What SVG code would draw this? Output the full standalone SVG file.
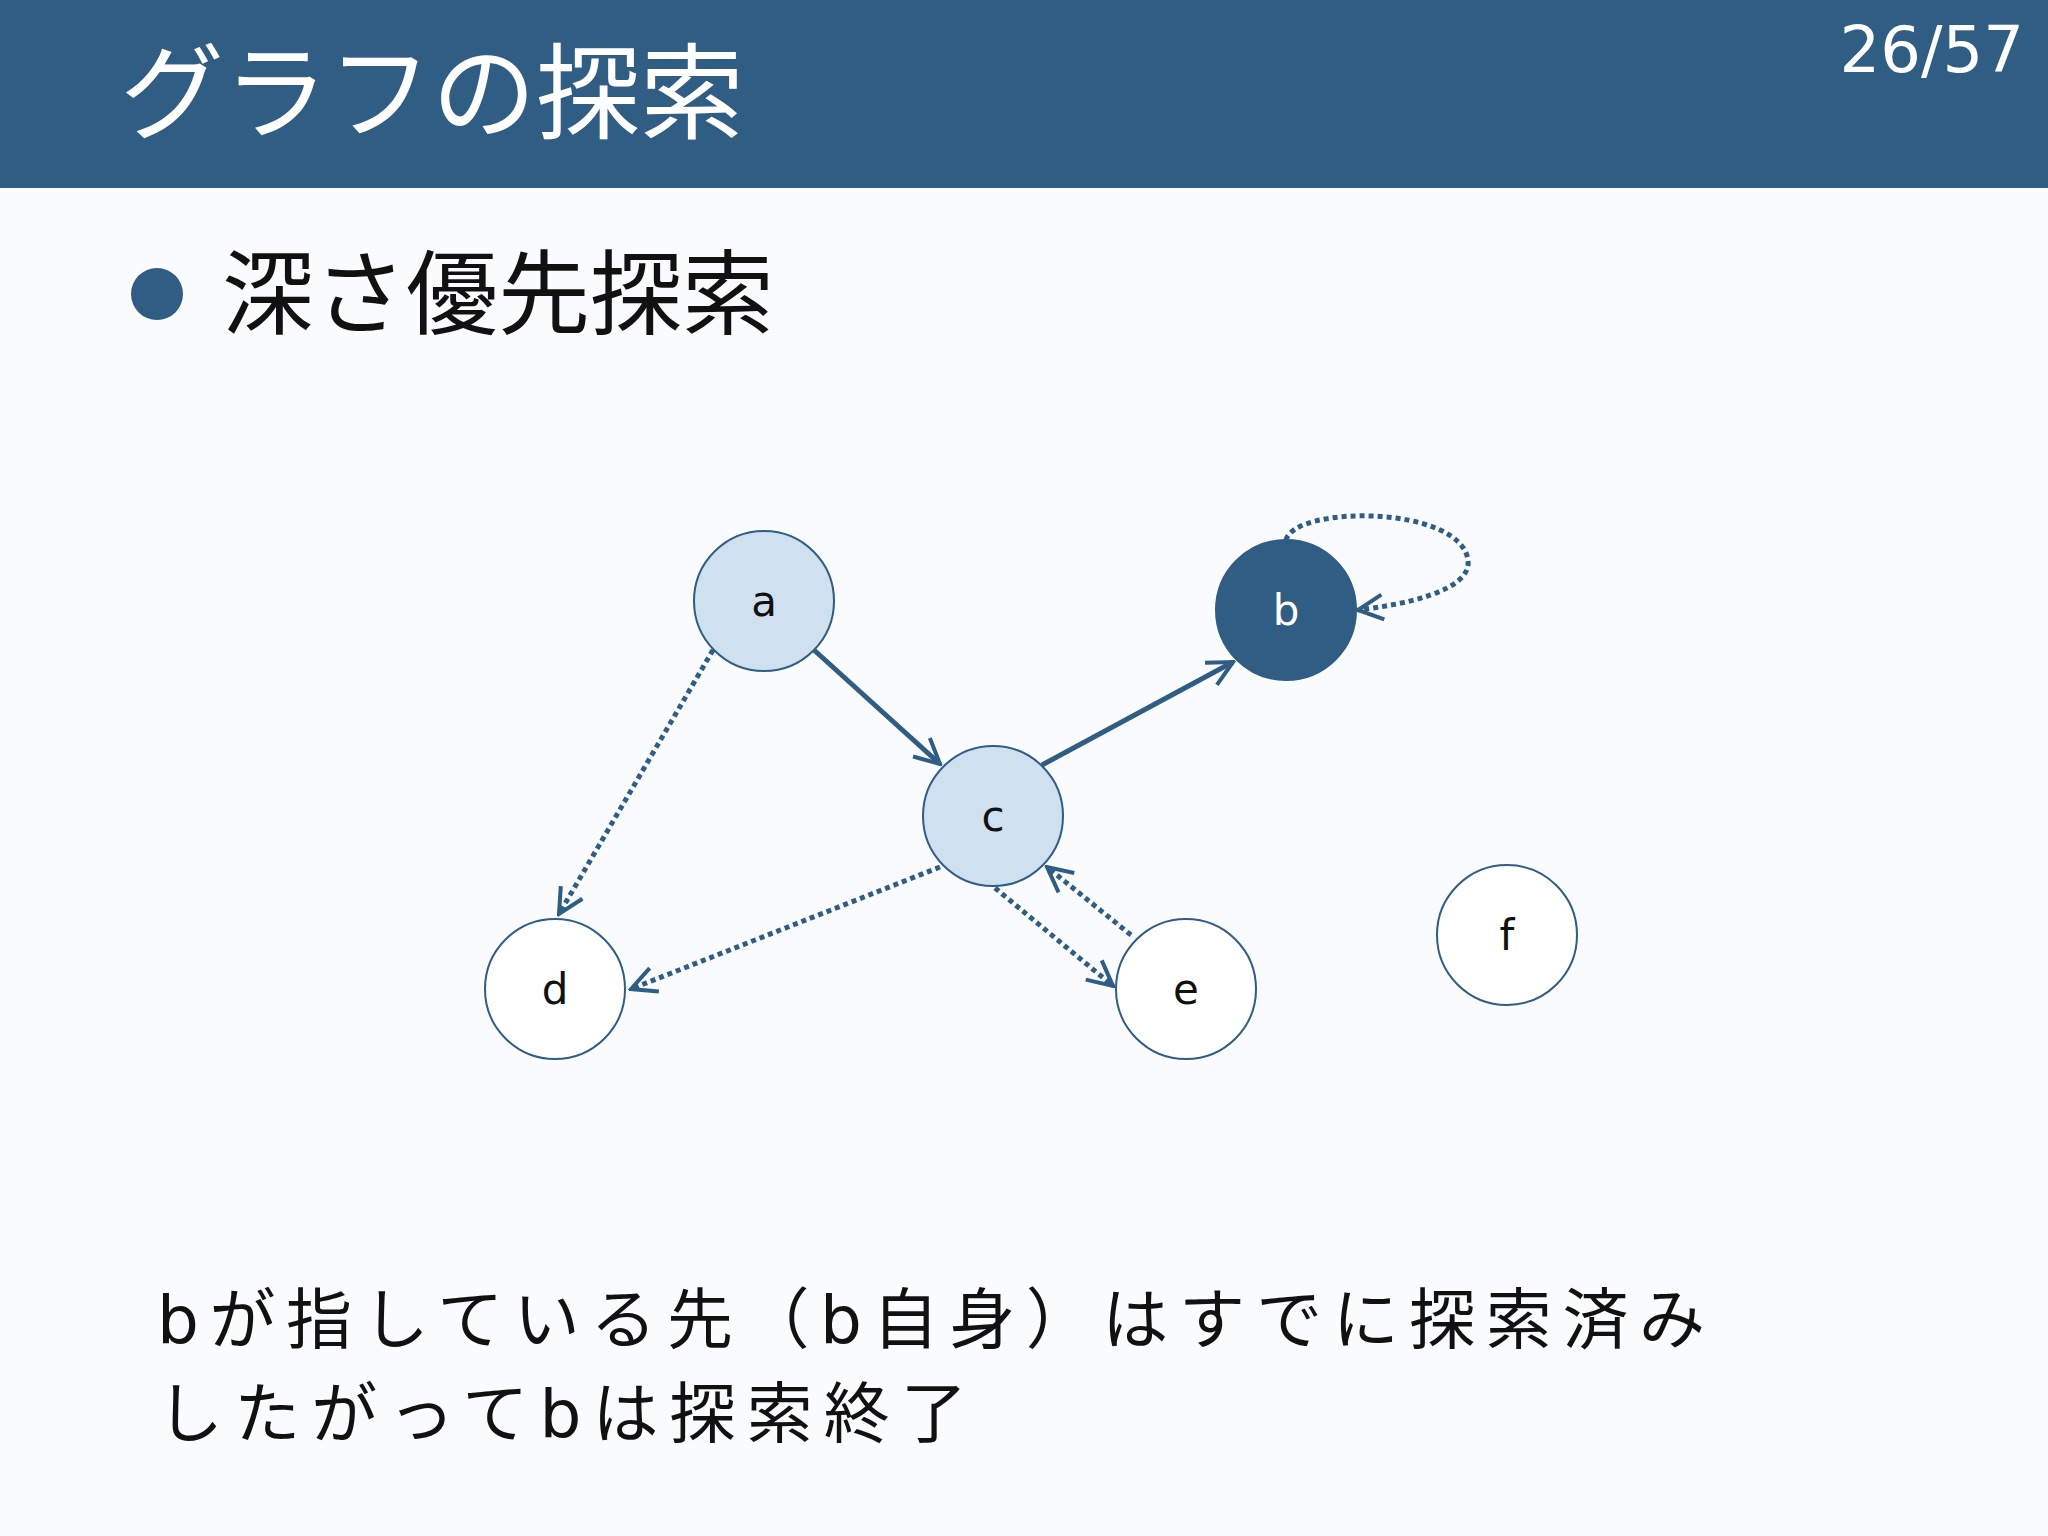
<svg xmlns="http://www.w3.org/2000/svg" width="2048" height="1536" viewBox="0 0 2048 1536">
<style>
.jp{font-family:"DejaVu Sans","Noto Sans CJK JP",sans-serif}
.node circle{stroke:#305d83;stroke-width:2}
.lbl{font-family:"DejaVu Sans",sans-serif;font-size:42px;text-anchor:middle;dominant-baseline:central}
.e{fill:none;stroke:#305d83;stroke-width:5;marker-end:url(#ah)}
.d{stroke-dasharray:5 4}
</style>
<defs>
<marker id="ah" viewBox="0 0 12 12" refX="11" refY="6" markerWidth="6" markerHeight="6" orient="auto" markerUnits="strokeWidth">
<path d="M1,1 L11,6 L1,11" fill="none" stroke="#305d83" stroke-width="1.6"/>
</marker>
</defs>
<rect width="2048" height="1536" fill="#fafbfd"/>
<rect width="2048" height="188" fill="#305d83"/>
<text x="120" y="131" class="jp" font-size="104" fill="#fff">グラフの探索</text>
<text x="2024" y="72" class="jp" font-size="64" fill="#fff" text-anchor="end">26/57</text>
<circle cx="157" cy="294" r="26" fill="#305d83"/>
<text x="222" y="327" class="jp" font-size="92" fill="#111">深さ優先探索</text>
<g id="edges">
<path class="e" d="M814,650 L940,764"/>
<path class="e" d="M1042,765 L1233,662"/>
<path class="e d" d="M713,650 L559,914"/>
<path class="e d" d="M940,867 L631,989"/>
<path class="e d" d="M995,888 L1113,986"/>
<path class="e d" d="M1131,935 L1047,867"/>
<path class="e d" d="M1286,540 C1295,505 1460,505 1468,560 C1472,592 1400,605 1358,610"/>
</g>
<g id="a" class="node"><circle cx="764" cy="601" r="70" fill="#cfe0ef"/><text x="764" y="601" class="lbl" fill="#111">a</text></g>
<g id="b" class="node"><circle cx="1286" cy="610" r="70" fill="#305d83"/><text x="1286" y="610" class="lbl" fill="#fff">b</text></g>
<g id="c" class="node"><circle cx="993" cy="816" r="70" fill="#cfe0ef"/><text x="993" y="816" class="lbl" fill="#111">c</text></g>
<g id="d" class="node"><circle cx="555" cy="989" r="70" fill="#fff"/><text x="555" y="989" class="lbl" fill="#111">d</text></g>
<g id="e" class="node"><circle cx="1186" cy="989" r="70" fill="#fff"/><text x="1186" y="989" class="lbl" fill="#111">e</text></g>
<g id="f" class="node"><circle cx="1507" cy="935" r="70" fill="#fff"/><text x="1507" y="935" class="lbl" fill="#111">f</text></g>
<text x="157" y="1343" class="jp" font-size="66" fill="#111" textLength="1548" lengthAdjust="spacing">bが指している先（b自身）はすでに探索済み</text>
<text x="157" y="1437" class="jp" font-size="66" fill="#111" textLength="810" lengthAdjust="spacing">したがってbは探索終了</text>
</svg>
